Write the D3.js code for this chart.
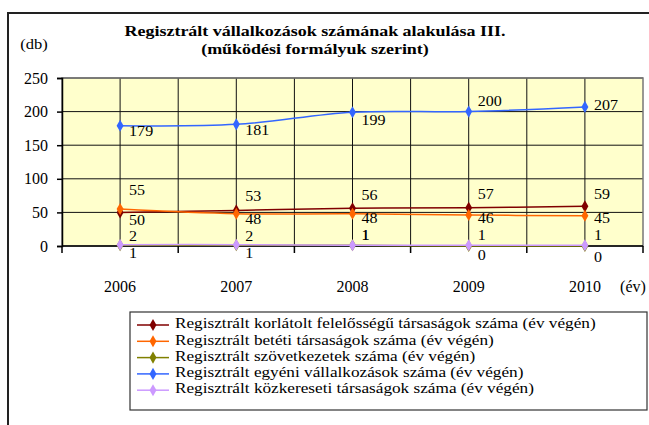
<!DOCTYPE html>
<html>
<head>
<meta charset="utf-8">
<script src="https://cdn.jsdelivr.net/npm/d3@7"></script>
<style>
  body { margin: 0; background: #fff; }
</style>
</head>
<body>
<script>
const years = ['2006', '2007', '2008', '2009', '2010'];
const korlatolt = [50, 53, 56, 57, 59];
const beteti = [55, 48, 48, 46, 45];
const szovetkezet = [1, 1, 1, 0, 0];
const egyeni = [179, 181, 199, 200, 207];
const kozkereseti = [2, 2, 1, 1, 1];
const yTicks = [0, 50, 100, 150, 200, 250];
const seriesNames = [
  'Regisztrált korlátolt felelősségű társaságok száma (év végén)',
  'Regisztrált betéti társaságok száma (év végén)',
  'Regisztrált szövetkezetek száma (év végén)',
  'Regisztrált egyéni vállalkozások száma (év végén)',
  'Regisztrált közkereseti társaságok száma (év végén)'
];
const colors = ['#800000', '#FF6600', '#808000', '#3366FF', '#CC99FF'];

// vertical offset of each data label from its point (label placement)
const labelDy = [
  [9, -13, -12, -12, -11],
  [-17, 7, 6, 4, 4],
  [9, 9, -9, 11, 13],
  [7, 7, 9, -9, 0],
  [-7, -7, -9, -9, -9]
];

const FONT = '"Liberation Serif", "Times New Roman", "DejaVu Serif", serif';

const series = [korlatolt, beteti, szovetkezet, egyeni, kozkereseti].map((v, i) => ({
  name: seriesNames[i], color: colors[i], values: v, dy: labelDy[i]
}));

const width = 649, height = 425;
const plot = {left: 62, right: 643, top: 78, bottom: 246};

const svg = d3.select('body').append('svg').attr('width', width).attr('height', height)
  .attr('font-family', FONT);

// outer frame (only left and top edges are visible)
svg.append('path').attr('d', `M8,${height} L8,13 L${width},13`)
  .attr('fill', 'none').attr('stroke', '#222').attr('stroke-width', 2);

const x = d3.scaleBand().domain(years).range([plot.left, plot.right]).padding(0);
const y = d3.scaleLinear().domain([0, 250]).range([plot.bottom, plot.top]);

// plot area
svg.append('rect').attr('x', plot.left).attr('y', plot.top)
  .attr('width', plot.right - plot.left).attr('height', plot.bottom - plot.top)
  .attr('fill', '#FFFFCC');

// gridlines
const grid = svg.append('g');
grid.selectAll('.hg').data(yTicks.slice(1)).join('line')
  .attr('x1', plot.left).attr('x2', plot.right)
  .attr('y1', d => y(d)).attr('y2', d => y(d))
  .attr('stroke', '#111').attr('stroke-width', 1);
const vx = [];
years.forEach(d => { vx.push(x(d)); vx.push(x(d) + x.bandwidth() / 2); });
grid.selectAll('.vg').data(vx.slice(1)).join('line')
  .attr('x1', d => d).attr('x2', d => d)
  .attr('y1', plot.top).attr('y2', plot.bottom)
  .attr('stroke', '#111').attr('stroke-width', 1);

svg.append('rect').attr('x', plot.left).attr('y', plot.top)
  .attr('width', plot.right - plot.left).attr('height', plot.bottom - plot.top)
  .attr('fill', 'none').attr('stroke', '#777').attr('stroke-width', 1.5);

// y axis
const yAxis = svg.append('g').attr('transform', `translate(${plot.left},0)`)
  .call(d3.axisLeft(y).tickValues(yTicks).tickSize(5).tickPadding(9));
yAxis.attr('font-family', FONT).attr('font-size', 16);
yAxis.select('.domain').attr('stroke', '#000').attr('stroke-width', 1.5);
yAxis.selectAll('.tick line').attr('stroke', '#000').attr('stroke-width', 1.5);

// x axis: line, ticks at category boundaries, labels at centres
svg.append('line').attr('x1', plot.left).attr('x2', plot.right)
  .attr('y1', plot.bottom).attr('y2', plot.bottom)
  .attr('stroke', '#000').attr('stroke-width', 1.5);
const bounds = years.map(d => x(d)).concat([plot.right]);
svg.selectAll('.xt').data(bounds).join('line')
  .attr('x1', d => d).attr('x2', d => d)
  .attr('y1', plot.bottom).attr('y2', plot.bottom + 7)
  .attr('stroke', '#000').attr('stroke-width', 1.5);
svg.selectAll('.xl').data(years).join('text')
  .attr('x', d => x(d) + x.bandwidth() / 2).attr('y', 288)
  .attr('text-anchor', 'middle').attr('dominant-baseline', 'middle')
  .attr('font-size', 16).text(d => d);
svg.append('text').attr('x', 633).attr('y', 288)
  .attr('text-anchor', 'middle').attr('dominant-baseline', 'middle')
  .attr('font-size', 16).text('(év)');

// titles (the source font is drawn slightly wide, so stretch horizontally)
const titleLines = ['Regisztrált vállalkozások számának alakulása III.', '(működési formályuk szerint)'];
svg.selectAll('.title').data(titleLines).join('text')
  .attr('transform', (d, i) => `translate(315,${33 + i * 18}) scale(1.2,1)`)
  .attr('text-anchor', 'middle').attr('dominant-baseline', 'middle')
  .attr('font-size', 15).attr('font-weight', 'bold').text(d => d);
svg.append('text').attr('transform', 'translate(34,46) scale(1.1,1)').attr('text-anchor', 'middle')
  .attr('dominant-baseline', 'middle').attr('font-size', 15).text('(db)');

// lines
const cx = d => x(d) + x.bandwidth() / 2;
const line = d3.line().x((v, i) => cx(years[i])).y(v => y(v)).curve(d3.curveCatmullRom.alpha(0.5));
const diamond = d3.symbol().type(d3.symbolDiamond).size(42);

series.forEach(s => {
  const g = svg.append('g');
  g.append('path').attr('d', line(s.values)).attr('fill', 'none')
    .attr('stroke', s.color).attr('stroke-width', 1.5);
  g.selectAll('path.m').data(s.values).join('path').attr('class', 'm')
    .attr('d', diamond).attr('fill', s.color)
    .attr('transform', (v, i) => `translate(${cx(years[i])},${y(v)})`);
});

// data labels
series.forEach(s => {
  svg.append('g').selectAll('text').data(s.values).join('text')
    .attr('transform', (v, i) => `translate(${cx(years[i]) + 9},${y(v) + s.dy[i]}) scale(1.07,1)`)
    .attr('dominant-baseline', 'middle').attr('font-size', 15)
    .text(v => v);
});

// legend
svg.append('rect').attr('x', 130).attr('y', 312).attr('width', 517).attr('height', 98)
  .attr('fill', '#fff').attr('stroke', '#333').attr('stroke-width', 1.2);
const leg = svg.append('g').selectAll('g').data(series).join('g')
  .attr('transform', (s, i) => `translate(137,${325 + i * 16.3})`);
leg.append('line').attr('x1', 0).attr('x2', 32).attr('stroke', d => d.color).attr('stroke-width', 1.5);
leg.append('path').attr('d', diamond).attr('fill', d => d.color).attr('transform', 'translate(16,0)');
leg.append('text').attr('transform', 'translate(38,0) scale(1.23,1)')
  .attr('dominant-baseline', 'middle').attr('font-size', 14)
  .text(d => d.name);
</script>
</body>
</html>
